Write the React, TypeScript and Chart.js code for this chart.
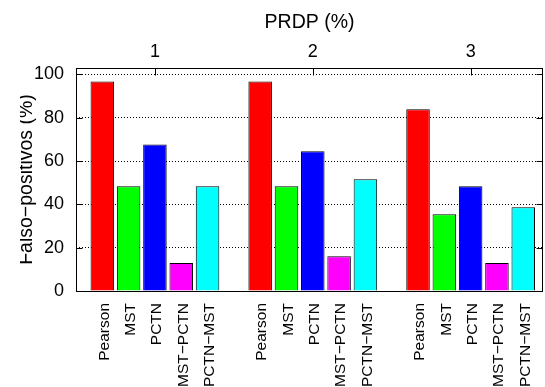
import React, { useEffect, useRef } from 'react';
import { Chart, registerables } from 'chart.js';
Chart.register(...registerables);

// ---- data ----
const methods = ['Pearson', 'MST', 'PCTN', 'MST−PCTN', 'PCTN−MST'];
const prdpLabels = ['1', '2', '3'];
const prdp1 = [96.8, 48.4, 67.7, 12.9, 48.4];
const prdp2 = [96.8, 48.4, 64.5, 16.1, 51.6];
const prdp3 = [83.9, 35.5, 48.4, 12.9, 38.7];
const barColors = ['#ff0000', '#00ff00', '#0000ff', '#ff00ff', '#00ffff'];
const yTicks = [0, 20, 40, 60, 80, 100];
const yTitle = 'Falso−positivos (%)';
const xTopTitle = 'PRDP (%)';

const groups = [prdp1, prdp2, prdp3];
const SLOT = methods.length + 1; // one empty slot between groups
const barPositions: number[] = [];
const points: { x: number; y: number }[] = [];
const pointColors: string[] = [];
groups.forEach((vals, g) => {
  vals.forEach((v, i) => {
    const x = g * SLOT + i;
    barPositions.push(x);
    points.push({ x, y: v });
    pointColors.push(barColors[i]);
  });
});
const groupCenters = groups.map((_, g) => g * SLOT + (methods.length - 1) / 2);

const X_MIN = -1;
const X_MAX = 16.75;
const FONT = '"Liberation Sans", Arial, sans-serif';

const noPad = (s: any) => {
  s.paddingLeft = 0;
  s.paddingRight = 0;
  s.paddingTop = 0;
  s.paddingBottom = 0;
};

const framePlugin = {
  id: 'frame',
  afterDatasetsDraw(chart: any) {
    const { ctx, chartArea: a, scales } = chart;
    const line = (x1: number, y1: number, x2: number, y2: number) => {
      ctx.beginPath();
      ctx.moveTo(x1, y1);
      ctx.lineTo(x2, y2);
      ctx.stroke();
    };
    ctx.save();
    ctx.strokeStyle = '#000';
    ctx.lineWidth = 1;
    ctx.setLineDash([]);
    const L = Math.round(a.left) + 0.5;
    const R = Math.round(a.right) - 0.5;
    const T = Math.round(a.top) + 0.5;
    const B = Math.round(a.bottom) + 0.5;
    ctx.strokeRect(L, T, R - L, B - T);
    yTicks.forEach((v) => {
      const y = Math.round(scales.y.getPixelForValue(v)) + 0.5;
      line(L, y, L + 6, y);
      line(R - 6, y, R, y);
    });
    groupCenters.forEach((c) => {
      const x = Math.round(scales.x2.getPixelForValue(c)) + 0.5;
      line(x, T, x, T + 7);
    });
    ctx.restore();

    ctx.save();
    ctx.beginPath();
    ctx.rect(20, 0, chart.width, chart.height);
    ctx.clip();
    ctx.translate(32, (a.top + a.bottom) / 2);
    ctx.rotate(-Math.PI / 2);
    ctx.font = `19.5px ${FONT}`;
    ctx.fillStyle = '#000';
    ctx.textAlign = 'center';
    ctx.textBaseline = 'alphabetic';
    ctx.fillText(yTitle, 0, 0);
    ctx.restore();
  },
};

export default function App() {
  const ref = useRef<HTMLCanvasElement | null>(null);
  useEffect(() => {
    document.body.style.margin = '0';
    const canvas = ref.current;
    if (!canvas) return;
    const chart = new Chart(canvas, {
      type: 'bar',
      data: {
        datasets: [
          {
            data: points as any,
            backgroundColor: pointColors,
            borderColor: '#000',
            borderWidth: 1,
            barPercentage: 0.894,
            categoryPercentage: 1,
          },
        ],
      },
      options: {
        animation: false,
        responsive: false,
        devicePixelRatio: 1,
        layout: { padding: { left: 0, right: 2, top: 0, bottom: 0 } },
        plugins: { legend: { display: false }, tooltip: { enabled: false } },
        scales: {
          x: {
            type: 'linear',
            position: 'bottom',
            min: X_MIN,
            max: X_MAX,
            offset: false,
            grid: { display: false },
            border: { display: false },
            ticks: {
              autoSkip: false,
              minRotation: 90,
              maxRotation: 90,
              padding: 4,
              labelOffset: 2,
              color: '#000',
              font: { family: FONT, size: 15.5 },
              callback: (v: any) => methods[Math.round(Number(v)) % SLOT] ?? '',
            },
            afterBuildTicks: (s: any) => {
              s.ticks = barPositions.map((value) => ({ value }));
            },
            afterFit: (s: any) => {
              s.height = 96;
              noPad(s);
            },
          },
          x2: {
            type: 'linear',
            axis: 'x',
            position: 'top',
            min: X_MIN,
            max: X_MAX,
            offset: false,
            grid: { display: false },
            border: { display: false },
            ticks: {
              autoSkip: false,
              maxRotation: 0,
              padding: -3,
              color: '#000',
              font: { family: FONT, size: 18 },
              callback: (v: any) => prdpLabels[Math.round((Number(v) - groupCenters[0]) / SLOT)] ?? '',
            },
            title: {
              display: true,
              text: xTopTitle,
              color: '#000',
              font: { family: FONT, size: 19.5 },
              padding: { top: 11, bottom: 0 },
            },
            afterBuildTicks: (s: any) => {
              s.ticks = groupCenters.map((value) => ({ value }));
            },
            afterFit: (s: any) => {
              s.height = 68;
              noPad(s);
            },
          },
          y: {
            type: 'linear',
            min: 0,
            max: 103,
            grid: { color: '#000', lineWidth: 1, drawTicks: false },
            border: { display: false, dash: [1, 2] },
            ticks: {
              padding: 12,
              color: '#000',
              font: { family: FONT, size: 18 },
            },
            afterBuildTicks: (s: any) => {
              s.ticks = yTicks.map((value) => ({ value }));
            },
            afterFit: (s: any) => {
              s.width = 76;
              noPad(s);
            },
          },
        },
      },
      plugins: [framePlugin],
    } as any);
    return () => chart.destroy();
  }, []);
  return <canvas ref={ref} width={545} height={387} style={{ display: 'block' }} />;
}
